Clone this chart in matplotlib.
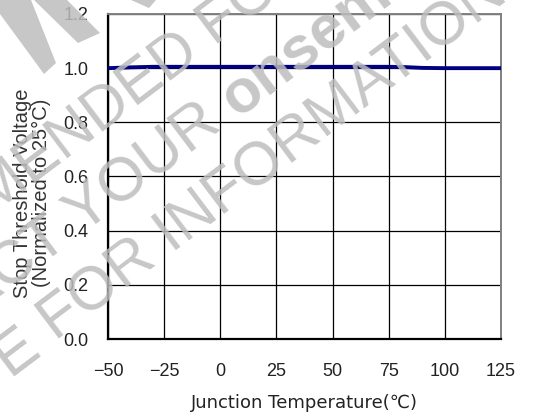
#%% Stop threshold voltage vs junction temperature (datasheet style)
import matplotlib
matplotlib.use('Agg')
import matplotlib.pyplot as plt
from matplotlib.patches import Polygon

#%% Data
temp_c = [-50, -40, -30, -25, 0, 25, 50, 75, 82, 90, 100, 125]
v_norm = [1.0, 1.003, 1.005, 1.005, 1.005, 1.005, 1.005, 1.005, 1.004, 1.001, 1.0, 1.0]

x_ticks = [-50, -25, 0, 25, 50, 75, 100, 125]
y_ticks = [0.0, 0.2, 0.4, 0.6, 0.8, 1.0, 1.2]

W, H = 536, 415

#%% Figure and axes
fig = plt.figure(figsize=(W / 100, H / 100), dpi=100)
ax = fig.add_axes([108 / W, 1 - 339 / H, (501 - 108) / W, (339 - 14) / H])

ax.plot(temp_c, v_norm, color='#000080', linewidth=2.8, solid_capstyle='butt', zorder=3)

ax.set_xlim(-50, 125)
ax.set_ylim(0.0, 1.2)
ax.set_xticks(x_ticks)
ax.set_yticks(y_ticks)
ax.set_xticklabels([str(t).replace('-', '\u2212') for t in x_ticks])
ax.set_yticklabels(['{0:.1f}'.format(v) for v in y_ticks])
ax.tick_params(axis='both', length=0, labelsize=13, labelcolor='#222222',
               labelfontfamily='Liberation Sans')
ax.tick_params(axis='x', pad=17)
ax.tick_params(axis='y', pad=14)
ax.grid(True, color='black', linewidth=0.9)
ax.set_axisbelow(True)

for side in ['left', 'bottom']:
    ax.spines[side].set_color('black')
    ax.spines[side].set_linewidth(1.6)
for side in ['top', 'right']:
    ax.spines[side].set_color('#808080')
    ax.spines[side].set_linewidth(1.4)

ax.set_xlabel('Junction Temperature(\u2103)', fontsize=13, family='DejaVu Sans',
              color='#222222', labelpad=10)
fig.text(32 / W, 1 - 193 / H, 'Stop Threshold Voltage\n(Normalized to 25\u00b0C)',
         rotation=90, ha='center', va='center', multialignment='center',
         fontsize=14.5, family='Liberation Sans', color='#333333', linespacing=1.05)

#%% Watermark (semi transparent, drawn on top)
WM_GRAY = '#bdbdbd'
wm = dict(rotation=37, rotation_mode='anchor', va='baseline', fontsize=44,
          family='Liberation Sans', color=WM_GRAY, alpha=0.85, zorder=10)


def wm_text(px, py, s, ha, **kw):
    d = dict(wm)
    d.update(kw)
    fig.text(px / W, 1 - py / H, s, ha=ha, **d)


def wm_shape(pts):
    xy = [(px / W, 1 - py / H) for px, py in pts]
    fig.add_artist(Polygon(xy, closed=True, transform=fig.transFigure,
                           facecolor=WM_GRAY, edgecolor='none', alpha=0.85, zorder=10))


wm_text(215, 47, 'FOR NEW DESIGN', 'left')
wm_text(202, 57, 'NOT RECOMMENDED', 'right')
wm_text(237, 118, 'onsemi', 'left', fontweight='bold')
wm_text(224, 128, 'CONTACT YOUR', 'right')
wm_text(56, 342, 'FOR INFORMATION', 'left')
wm_text(43, 352, 'REPRESENTATIVE', 'right')

# strokes of the large logo letters in the top-left corner
wm_shape([(0, 0), (31, 0), (56, 63), (44, 74), (0, 14)])
wm_shape([(34, 0), (67, 0), (100, 33), (78, 43)])
wm_shape([(131, 0), (156, 0), (149, 8)])

fig.savefig('out.png', dpi=100)
